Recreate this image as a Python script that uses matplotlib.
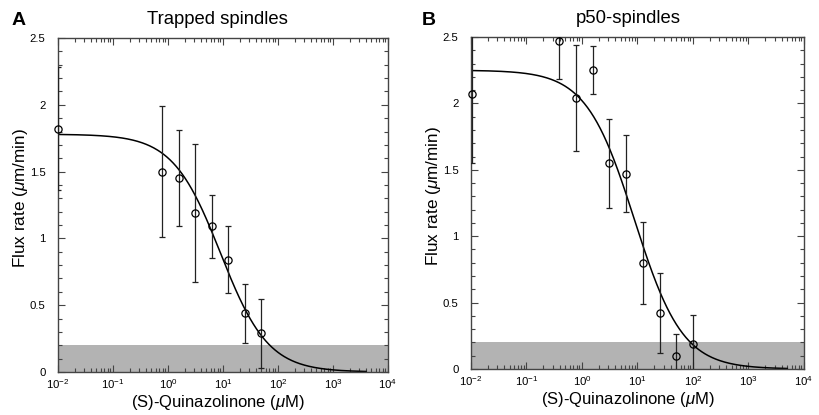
import numpy as np
import matplotlib
matplotlib.use("Agg")
import matplotlib.pyplot as plt
from matplotlib.ticker import LogLocator, MultipleLocator, FixedLocator, NullFormatter

plt.rcParams['font.family'] = ['Liberation Sans', 'DejaVu Sans']
plt.rcParams['mathtext.fontset'] = 'custom'
plt.rcParams['mathtext.rm'] = 'Liberation Sans'
plt.rcParams['mathtext.it'] = 'Liberation Sans:italic'
plt.rcParams['mathtext.default'] = 'regular'
plt.rcParams['axes.unicode_minus'] = False

# ---- Data: panel A (Trapped spindles) ----
dose_a = [0.01, 0.78, 1.56, 3.125, 6.25, 12.5, 25, 50]
flux_a = [1.82, 1.50, 1.45, 1.19, 1.09, 0.84, 0.44, 0.29]
err_a = [0.46, 0.49, 0.36, 0.52, 0.235, 0.25, 0.22, 0.26]
fit_a = dict(top=1.78, ic50=9.0, hill=1.0, xmax=4000)

# ---- Data: panel B (p50-spindles) ----
dose_b = [0.0105, 0.39, 0.78, 1.56, 3.125, 6.25, 12.5, 25, 50, 100]
flux_b = [2.07, 2.47, 2.04, 2.25, 1.55, 1.47, 0.80, 0.42, 0.10, 0.19]
err_b = [0.52, 0.29, 0.40, 0.18, 0.335, 0.29, 0.31, 0.30, 0.16, 0.22]
fit_b = dict(top=2.25, ic50=8.8, hill=1.0, xmax=5000)

band_top = 0.2
titles = ["Trapped spindles", "p50-spindles"]
panel_letters = ["A", "B"]
xlabel = r"(S)-Quinazolinone ($\mathit{\mu}$M)"
ylabel = r"Flux rate ($\mathit{\mu}$m/min)"

fig = plt.figure(figsize=(8.2, 4.15), dpi=100)
axA = fig.add_axes([58/820, 43/415, 330/820, 334/415])
axB = fig.add_axes([471/820, 46/415, 333/820, 332/415])

panels = [
    (axA, dose_a, flux_a, err_a, fit_a, 0.483),
    (axB, dose_b, flux_b, err_b, fit_b, 0.472),
]

for i, (ax, d, f, e, fit, xc_title) in enumerate(panels):
    ax.set_xscale('log')
    ax.set_xlim(1e-2, 1e4)
    ax.set_ylim(0, 2.5)
    ax.axhspan(0, band_top, color='#b3b3b3', lw=0, zorder=0)
    xc = np.logspace(-2, np.log10(fit['xmax']), 400)
    yc = fit['top'] / (1 + (xc / fit['ic50']) ** fit['hill'])
    ax.plot(xc, yc, color='black', lw=1.1, zorder=2)
    ax.errorbar(d, f, yerr=e, fmt='none', ecolor='#222222', elinewidth=0.9,
                capsize=2.2, capthick=0.9, zorder=3)
    ax.plot(d, f, 'o', mfc='none', mec='black', mew=0.9, ms=5.2,
            zorder=4, clip_on=False)
    ax.yaxis.set_major_locator(FixedLocator([0, 0.5, 1, 1.5, 2, 2.5]))
    ax.yaxis.set_major_formatter(plt.FuncFormatter(lambda v, p: ('%g' % v)))
    ax.yaxis.set_minor_locator(MultipleLocator(0.1))
    ax.xaxis.set_major_locator(FixedLocator([1e-2, 1e-1, 1e0, 1e1, 1e2, 1e3, 1e4]))
    ax.xaxis.set_minor_locator(LogLocator(base=10, subs=np.arange(2, 10), numticks=20))
    ax.xaxis.set_minor_formatter(NullFormatter())
    ax.tick_params(which='both', direction='in', top=True, right=True,
                   color='#444444', width=0.8)
    ax.tick_params(which='major', length=5, labelsize=8.2)
    ax.tick_params(which='minor', length=3)
    ax.tick_params(axis='y', which='major', pad=9)
    ax.tick_params(axis='x', which='major', pad=4)
    for s in ax.spines.values():
        s.set_linewidth(1.0)
        s.set_color('#444444')
    ax.set_xlabel(xlabel, fontsize=12, labelpad=1)
    ax.xaxis.label.set_x(xc_title)
    ax.set_ylabel(ylabel, fontsize=12.3, labelpad=0)
    ax.yaxis.label.set_y(0.52)
    ax.set_title(titles[i], fontsize=13.3, pad=10, x=xc_title)

fig.text(12/820, 1 - 25/415, panel_letters[0], fontsize=14, fontweight='bold')
fig.text(422/820, 1 - 25/415, panel_letters[1], fontsize=14, fontweight='bold')

fig.savefig('out.png', dpi=100)
